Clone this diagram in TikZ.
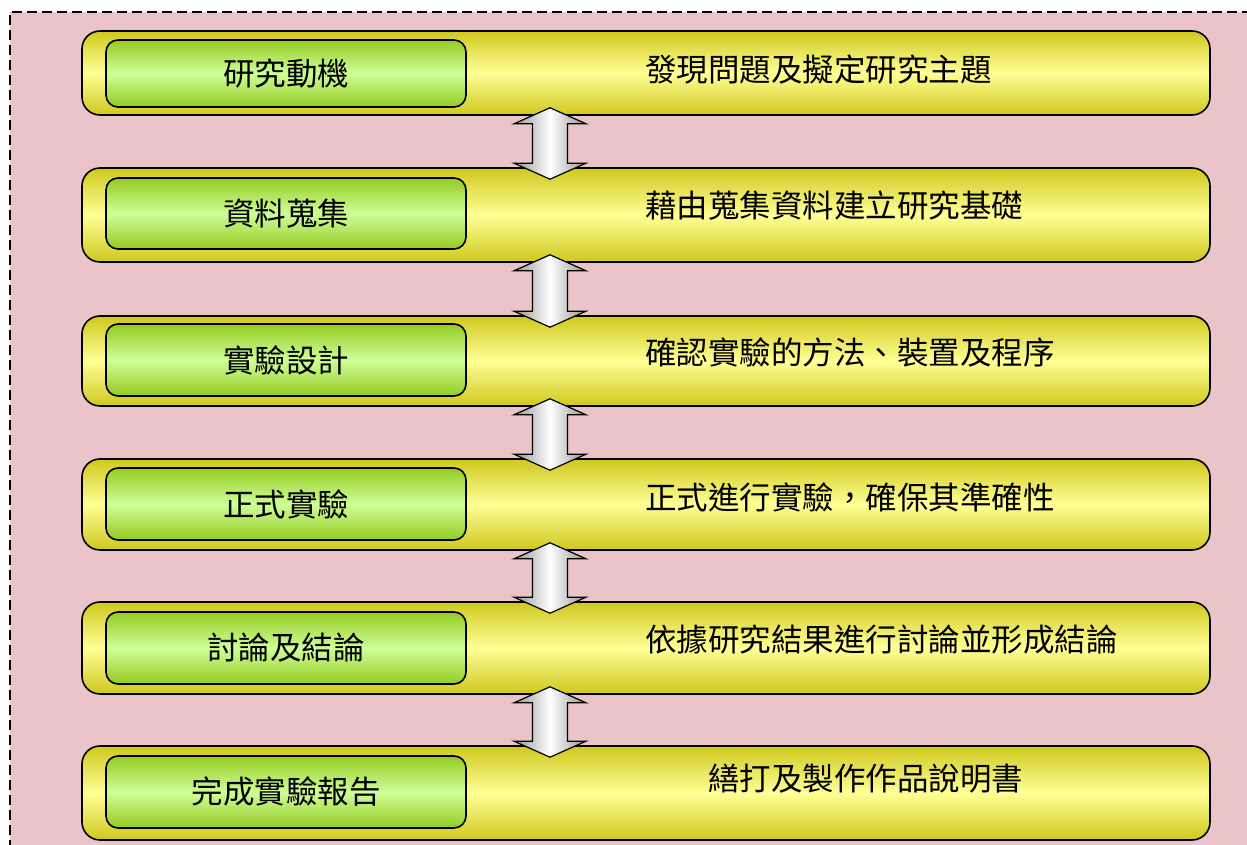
\documentclass[tikz,border=0pt]{standalone}
\usepackage{fontspec}
\newfontfamily\cjk{Noto Sans CJK TC}
\usetikzlibrary{calc}
\definecolor{bgpink}{RGB}{234,196,201}
\definecolor{ydark}{RGB}{208,200,30}
\definecolor{ylight}{RGB}{255,255,150}
\definecolor{gdark}{RGB}{150,202,34}
\definecolor{glight}{RGB}{206,255,152}
\tikzset{
  x=1pt,y=1pt,
  ybox/.style={draw=black, line width=1.6pt, rounded corners=18pt, minimum width=1128pt,
    top color=ydark, bottom color=ydark, middle color=ylight, inner sep=0pt},
  gbox/.style={draw=black, line width=1.6pt, rounded corners=12pt, minimum width=360pt,
    top color=gdark, bottom color=gdark, middle color=glight, inner sep=0pt,
    font=\cjk\fontsize{31.5}{32}\selectfont},
  rtext/.style={anchor=west, inner sep=0pt, font=\cjk\fontsize{31.5}{32}\selectfont},
  dblarr/.style={draw=black, line width=1.2pt, left color=gray!85, right color=gray!85, middle color=white}
}
\newcommand\myudarrow[2]{%
  \path[dblarr] let \p1=(#1.south), \p2=(#2.north) in
    (550,\y1+8) -- (586,\y1-8) -- (567.5,\y1-8) -- (567.5,\y2+4) -- (586,\y2+4)
    -- (550,\y2-12) -- (514,\y2+4) -- (532.5,\y2+4) -- (532.5,\y1-8) -- (514,\y1-8) -- cycle;}
\begin{document}
\begin{tikzpicture}
\useasboundingbox (0,0) rectangle (1247,845);
\begin{scope}
\clip (0,0) rectangle (1247,845);
\fill[bgpink] (10,-20) rectangle (1270,833);
\draw[line width=1.6pt, dash pattern=on 10pt off 5pt] (10,-20) -- (10,833) -- (1270,833);
\end{scope}
% yellow boxes
\node[ybox, minimum height=84pt] (y1) at (646,772) {};
\node[ybox, minimum height=94pt] (y2) at (646,630) {};
\node[ybox, minimum height=90pt] (y3) at (646,484) {};
\node[ybox, minimum height=91pt] (y4) at (646,340.5) {};
\node[ybox, minimum height=92pt] (y5) at (646,197) {};
\node[ybox, minimum height=94pt] (y6) at (646,52) {};
% green boxes
\node[gbox, minimum height=67pt] (g1) at (286,771.5) {研究動機};
\node[gbox, minimum height=71pt] (g2) at (286,631.5) {資料蒐集};
\node[gbox, minimum height=72pt] (g3) at (286,485) {實驗設計};
\node[gbox, minimum height=72pt] (g4) at (286,341) {正式實驗};
\node[gbox, minimum height=72pt] (g5) at (286,197) {討論及結論};
\node[gbox, minimum height=72pt] (g6) at (286,53) {完成實驗報告};
% right texts
\node[rtext] (r1) at (645,775) {發現問題及擬定研究主題};
\node[rtext] (r2) at (645,639) {藉由蒐集資料建立研究基礎};
\node[rtext] (r3) at (645,492) {確認實驗的方法、裝置及程序};
\node[rtext] (r4) at (645,348) {正式進行實驗，確保其準確性};
\node[rtext] (r5) at (645,205) {依據研究結果進行討論並形成結論};
\node[rtext] (r6) at (708,66) {繕打及製作作品說明書};
% arrows
\myudarrow{y1}{y2}
\myudarrow{y2}{y3}
\myudarrow{y3}{y4}
\myudarrow{y4}{y5}
\myudarrow{y5}{y6}
\end{tikzpicture}
\end{document}
